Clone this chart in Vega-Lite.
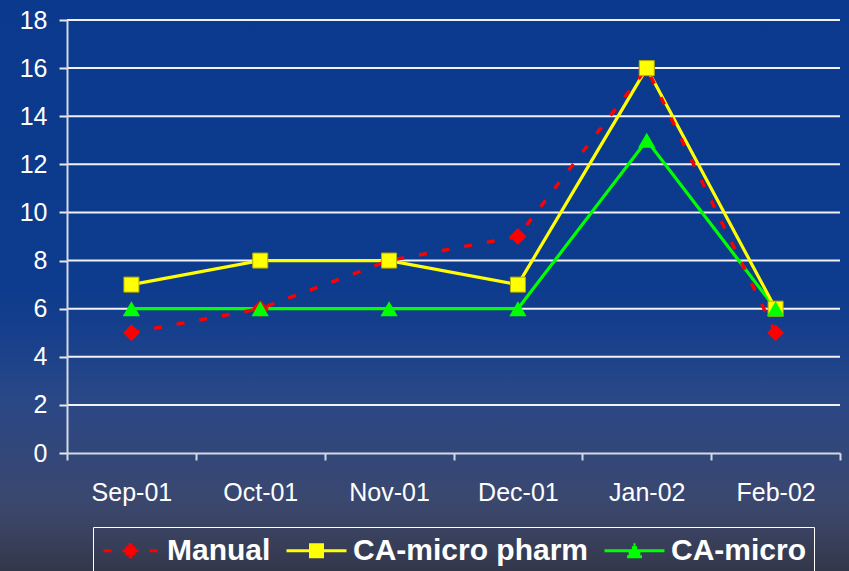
{
  "$schema": "https://vega.github.io/schema/vega-lite/v6.json",
  "width": 849,
  "height": 571,
  "autosize": {"type": "none"},
  "padding": 0,
  "background": "#2A4078",
  "config": {
    "font": "Liberation Sans",
    "view": {"stroke": null}
  },
  "data": {
    "values": [
      {"month": "Sep-01", "series": "Manual", "value": 5},
      {"month": "Oct-01", "series": "Manual", "value": 6},
      {"month": "Nov-01", "series": "Manual", "value": 8},
      {"month": "Dec-01", "series": "Manual", "value": 9},
      {"month": "Jan-02", "series": "Manual", "value": 16},
      {"month": "Feb-02", "series": "Manual", "value": 5},
      {"month": "Sep-01", "series": "CA-micro pharm", "value": 7},
      {"month": "Oct-01", "series": "CA-micro pharm", "value": 8},
      {"month": "Nov-01", "series": "CA-micro pharm", "value": 8},
      {"month": "Dec-01", "series": "CA-micro pharm", "value": 7},
      {"month": "Jan-02", "series": "CA-micro pharm", "value": 16},
      {"month": "Feb-02", "series": "CA-micro pharm", "value": 6},
      {"month": "Sep-01", "series": "CA-micro", "value": 6},
      {"month": "Oct-01", "series": "CA-micro", "value": 6},
      {"month": "Nov-01", "series": "CA-micro", "value": 6},
      {"month": "Dec-01", "series": "CA-micro", "value": 6},
      {"month": "Jan-02", "series": "CA-micro", "value": 13},
      {"month": "Feb-02", "series": "CA-micro", "value": 6}
    ]
  },
  "layer": [
    {
      "data": {"values": [{"panel": "background"}]},
      "mark": {
        "type": "rect",
        "fill": {
          "gradient": "linear", "x1": 0, "y1": 0, "x2": 0, "y2": 1,
          "stops": [
            {"offset": 0, "color": "#0A398E"},
            {"offset": 0.5, "color": "#0D3B8D"},
            {"offset": 0.58, "color": "#163F8C"},
            {"offset": 0.7, "color": "#2A4886"},
            {"offset": 0.79, "color": "#32477A"},
            {"offset": 0.87, "color": "#3A4870"},
            {"offset": 0.93, "color": "#3A4260"},
            {"offset": 1, "color": "#33374A"}
          ]
        }
      },
      "encoding": {}
    },
    {
      "data": {"values": [{"tick": 2}, {"tick": 4}, {"tick": 6}, {"tick": 8}, {"tick": 10}, {"tick": 12}, {"tick": 14}, {"tick": 16}, {"tick": 18}]},
      "mark": {"type": "rule", "color": "#F2F2F6", "strokeWidth": 2},
      "encoding": {
        "y": {"field": "tick", "type": "quantitative"},
        "x": {"datum": 0, "type": "quantitative", "scale": {"domain": [0, 1], "range": [67, 840]}, "axis": null},
        "x2": {"datum": 1}
      }
    },
    {
      "encoding": {
        "x": {
          "field": "month", "type": "ordinal",
          "sort": ["Sep-01", "Oct-01", "Nov-01", "Dec-01", "Jan-02", "Feb-02"],
          "scale": {"type": "band", "range": [67, 840], "paddingInner": 0, "paddingOuter": 0},
          "axis": {
            "title": null, "orient": "bottom", "offset": -118, "zindex": 1,
            "tickBand": "extent", "grid": false,
            "domainColor": "#D4D9E6", "domainWidth": 2,
            "tickColor": "#D4D9E6", "tickWidth": 2, "tickSize": 7,
            "labelColor": "#FFFFFF", "labelFontSize": 25, "labelPadding": 20, "labelAngle": 0,
            "labelFont": "Liberation Sans"
          }
        },
        "y": {
          "field": "value", "type": "quantitative",
          "scale": {"domain": [0, 18], "range": [453, 20], "nice": false, "zero": true},
          "axis": {
            "title": null, "orient": "left", "offset": -67, "zindex": 1,
            "values": [0, 2, 4, 6, 8, 10, 12, 14, 16, 18],
            "grid": false,
            "domainColor": "#D4D9E6", "domainWidth": 2,
            "tickColor": "#E8EAF0", "tickWidth": 2, "tickSize": 8,
            "labelColor": "#FFFFFF", "labelFontSize": 25, "labelPadding": 12,
            "labelFont": "Liberation Sans"
          }
        }
      },
      "layer": [
        {
          "transform": [{"filter": "datum.series === 'CA-micro'"}],
          "mark": {"type": "line", "color": "#00FF00", "strokeWidth": 3.2}
        },
        {
          "transform": [{"filter": "datum.series === 'CA-micro pharm'"}],
          "mark": {"type": "line", "color": "#FFFF00", "strokeWidth": 3.2}
        },
        {
          "transform": [{"filter": "datum.series === 'Manual'"}],
          "mark": {"type": "line", "color": "#FF0000", "strokeWidth": 3.4, "strokeDash": [8, 15]}
        },
        {
          "transform": [{"filter": "datum.series === 'Manual'"}],
          "mark": {"type": "point", "shape": "diamond", "filled": true, "color": "#FF0000", "size": 289, "opacity": 1}
        },
        {
          "transform": [{"filter": "datum.series === 'CA-micro pharm'"}],
          "mark": {"type": "point", "shape": "square", "filled": true, "color": "#FFFF00", "size": 225, "opacity": 1, "stroke": "#B8B000", "strokeWidth": 1}
        },
        {
          "transform": [{"filter": "datum.series === 'CA-micro'"}],
          "mark": {"type": "point", "shape": "triangle-up", "filled": true, "color": "#00FF00", "size": 300, "opacity": 1}
        },
        {
          "data": {"values": []},
          "mark": {"type": "point", "filled": false, "strokeWidth": 3, "opacity": 1},
          "encoding": {
            "x": null,
            "y": null,
            "color": {
              "field": "series", "type": "nominal",
              "scale": {"domain": ["Manual", "CA-micro pharm", "CA-micro"], "range": ["#FF0000", "#FFFF00", "#00FF00"]},
              "legend": {
                "title": null, "orient": "none", "legendX": 93, "legendY": 527,
                "direction": "horizontal", "columns": 3,
                "strokeColor": "#FFFFFF", "padding": 7,
                "labelColor": "#FFFFFF", "labelFontSize": 30, "labelFontWeight": "bold",
                "labelFont": "Liberation Sans", "labelLimit": 0, "labelOffset": 20,
                "columnPadding": 9, "symbolSize": 900, "symbolStrokeWidth": 3,
                "symbolOffset": 14, "symbolOpacity": 1
              }
            },
            "shape": {
              "field": "series", "type": "nominal",
              "scale": {
                "domain": ["Manual", "CA-micro pharm", "CA-micro"],
                "range": [
                  "M-1.8,0H-1.27M1.27,0H1.8M-0.533,0H0.533M-0.333,-0.2H0.333M-0.333,0.2H0.333M-0.133,-0.4H0.133M-0.133,0.4H0.133",
                  "M-2,0H2M-0.5,-0.4H0.5M-0.5,-0.2H0.5M-0.5,0.2H0.5M-0.5,0.4H0.5",
                  "M-2,0H2M-0.07,-0.4H0.07M-0.177,-0.2H0.177M-0.39,0.2H0.39M-0.5,0.4H0.5"
                ]
              }
            }
          }
        }
      ]
    }
  ],
  "resolve": {"scale": {"x": "independent"}}
}
